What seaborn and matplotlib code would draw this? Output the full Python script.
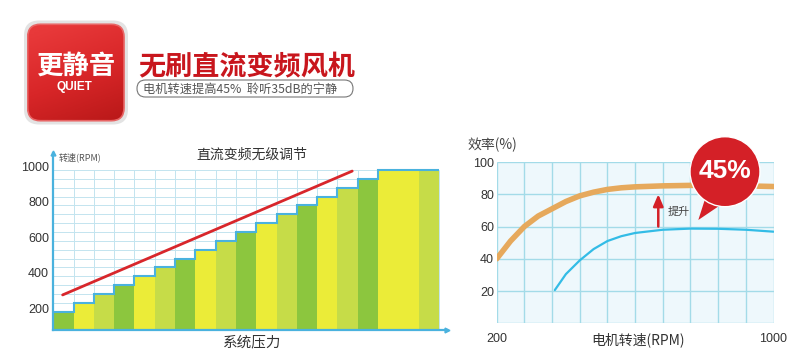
import numpy as np
import seaborn as sns
import matplotlib.pyplot as plt
from matplotlib.patches import FancyBboxPatch, Circle, Polygon
from matplotlib.colors import LinearSegmentedColormap

# left chart: stepless speed steps (RPM)
step_speed = [180, 230, 280, 330, 380, 430, 480, 530, 580, 630, 680, 730,
              780, 830, 880, 930, 980, 980, 980]
step_colors = ["#8cc63e", "#ebec38", "#c6dc48"] * 5 + ["#8cc63e", "#ebec38", "#ebec38", "#c6dc48"]
trend_x = [-0.04, 14.23]
trend_y = [275, 974]
speed_ticks = [200, 400, 600, 800, 1000]

# right chart: efficiency curves
rpm_new = [200, 240, 280, 320, 360, 400, 440, 480, 520, 560, 600, 680, 760, 840, 920, 1000]
eff_new = [40, 51, 60, 66.5, 71, 75.5, 79, 81.3, 83, 84, 84.6, 85.2, 85.5, 85.4, 85.2, 84.8]
rpm_old = [368, 400, 440, 480, 520, 560, 600, 680, 760, 840, 920, 1000]
eff_old = [20.6, 30.5, 39, 46, 51, 54, 56, 58, 58.7, 58.6, 58, 56.8]
eff_ticks = [20, 40, 60, 80, 100]
rpm_ticks = [200, 1000]

sns.set_style("white")
CJK = ["Noto Sans CJK SC", "DejaVu Sans"]
NUM = ["Liberation Sans", "DejaVu Sans"]
plt.rcParams["font.family"] = CJK

W, H = 800, 359
fig = plt.figure(figsize=(W / 100, H / 100), dpi=100)


def px(x, y):
    return x / W, 1 - y / H


blue = "#4ab2de"
grid_blue = "#c3e4ef"

# ---------------- left chart ----------------
ax1 = fig.add_axes([53.3 / W, (H - 330) / H, (447 - 53.3) / W, (330 - 153) / H])
ax1.set_xlim(-0.5, 18.9)
ax1.set_ylim(77, 1076)
edges = np.arange(len(step_speed) + 1) - 0.5
ax1.vlines(edges, 77, 980, color=grid_blue, lw=0.7, zorder=0)
ax1.hlines(np.arange(130, 981, 50), -0.5, edges[-1], color=grid_blue, lw=0.7, zorder=0)
slots = list(range(len(step_speed)))
sns.barplot(x=slots, y=step_speed, hue=slots, palette=step_colors, width=1,
            saturation=1, legend=False, linewidth=0, edgecolor="none", ax=ax1, zorder=2)
ax1.set_xlim(-0.5, 18.9)
ax1.stairs(step_speed, edges, baseline=None, color=blue, lw=1.5, zorder=3)
sns.lineplot(x=trend_x, y=trend_y, color="#d8262b", lw=2, ax=ax1, zorder=4)
ax1.set_yticks(speed_ticks)
ax1.set_yticklabels([str(v) for v in speed_ticks], family=NUM, fontsize=9, color="#333333")
ax1.set_xticks([])
ax1.tick_params(axis="y", length=0, pad=3)
ax1.set_xlabel("")
ax1.set_ylabel("")
for s in ["top", "right"]:
    ax1.spines[s].set_visible(False)
for s in ["left", "bottom"]:
    ax1.spines[s].set_color(blue)
    ax1.spines[s].set_linewidth(1.6)
ax1.plot([0], [1], marker="^", color=blue, ms=3.5, transform=ax1.transAxes, clip_on=False)
ax1.plot([1], [0], marker=">", color=blue, ms=3.5, transform=ax1.transAxes, clip_on=False)

fig.text(*px(252, 155), "直流变频无级调节", ha="center", va="center", fontsize=10, color="#333333")
fig.text(*px(59, 157), "转速(RPM)", ha="left", va="center", fontsize=6.5, color="#555555")
fig.text(*px(252, 342), "系统压力", ha="center", va="center", fontsize=10.5, color="#333333")

# ---------------- right chart ----------------
ax2 = fig.add_axes([496.7 / W, (H - 323.3) / H, (773.5 - 496.7) / W, (323.3 - 162) / H])
ax2.set_facecolor("#eef8fc")
ax2.set_xlim(200, 1000)
ax2.set_ylim(0, 100)
ax2.vlines(np.arange(200, 1001, 80), 0, 100, color="#a3dbe8", lw=1, zorder=0)
ax2.hlines(np.arange(0, 101, 20), 200, 1000, color="#a3dbe8", lw=1, zorder=0)
sns.lineplot(x=rpm_new, y=eff_new, color="#e6a95c", lw=4, ax=ax2, zorder=3)
sns.lineplot(x=rpm_old, y=eff_old, color="#33bce6", lw=1.6, ax=ax2, zorder=3)
ax2.set_yticks(eff_ticks)
ax2.set_yticklabels([str(v) for v in eff_ticks], family=NUM, fontsize=9, color="#333333")
ax2.set_xticks(rpm_ticks)
ax2.set_xticklabels([str(v) for v in rpm_ticks], family=NUM, fontsize=9, color="#333333")
ax2.tick_params(axis="y", length=0, pad=2)
ax2.tick_params(axis="x", length=0, pad=7)
ax2.set_xlabel("")
ax2.set_ylabel("")
for s in ax2.spines.values():
    s.set_visible(False)

ax2.annotate("", xy=(667, 80), xytext=(667, 60),
             arrowprops=dict(arrowstyle="-|>,head_length=0.7,head_width=0.3",
                             color="#d42027", lw=1.8, shrinkA=0, shrinkB=0))
ax2.text(695, 69, "提升", ha="left", va="center", fontsize=8, color="#444444")

fig.text(*px(468, 145), "效率(%)", ha="left", va="center", fontsize=10, color="#444444")
fig.text(*px(638, 340), "电机转速(RPM)", ha="center", va="center", fontsize=10, color="#333333")

# speech bubble
inch = fig.dpi_scale_trans
fig.add_artist(Polygon([(6.983, 1.39), (7.06, 1.63), (7.22, 1.55)], closed=True,
                       facecolor="#d42027", edgecolor="none", transform=inch, zorder=5))
fig.add_artist(Circle((7.25, 1.873), 0.35, facecolor="#d42027", edgecolor="white",
                      lw=1, transform=inch, zorder=5))
fig.text(*px(725, 171), "45%", ha="center", va="center", fontsize=19, fontweight="bold",
         family=NUM, color="white", zorder=6)

# ---------------- header ----------------
shadow = FancyBboxPatch((0.24, 2.345), 1.04, 1.04, boxstyle="round,pad=0,rounding_size=0.15",
                        facecolor="#d8d8d8", edgecolor="none", alpha=0.7, transform=inch, zorder=-1)
fig.add_artist(shadow)
iax = fig.add_axes([26.7 / W, (H - 121.7) / H, 98.3 / W, 98.4 / H])
iax.set_zorder(3)
iax.set_axis_off()
iax.set_xlim(0, 1)
iax.set_ylim(0, 1)
gx, gy = np.meshgrid(np.linspace(0, 1, 60), np.linspace(0, 1, 60))
grad = np.clip(gy * 0.8 + (1 - gx) * 0.3, 0, 1)
cmap = LinearSegmentedColormap.from_list("icon", ["#b81818", "#d82628", "#e8393a"])
box = FancyBboxPatch((0.01, 0.01), 0.98, 0.98, boxstyle="round,pad=0,rounding_size=0.13",
                     facecolor="none", edgecolor="#e86565", lw=1.2, transform=iax.transAxes)
iax.add_patch(box)
im = iax.imshow(grad, extent=[0, 1, 0, 1], origin="lower", cmap=cmap, aspect="auto")
im.set_clip_path(box)
fig.text(*px(76, 66.5), "更静音", ha="center", va="center", fontsize=19, fontweight="bold",
         color="white", zorder=6)
fig.text(*px(74, 87), "QUIET", ha="center", va="center", fontsize=8.5, fontweight="bold",
         family=NUM, color="white", zorder=6)

fig.text(*px(138, 67), "无刷直流变频风机", ha="left", va="center", fontsize=19.5,
         fontweight="bold", color="#c8161d")
fig.add_artist(FancyBboxPatch((1.37, 2.62), 2.16, 0.17, boxstyle="round,pad=0,rounding_size=0.085",
                              facecolor="white", edgecolor="#777777", lw=0.8, transform=inch))
fig.text(*px(143, 89), "电机转速提高45%  聆听35dB的宁静", ha="left", va="center",
         fontsize=8.8, color="#555555", zorder=6)

fig.savefig("out.png", dpi=100)
